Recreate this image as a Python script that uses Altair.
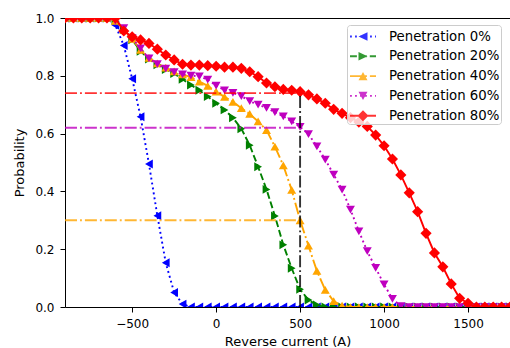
import altair as alt
import pandas as pd

# ---------------- data ----------------
current = list(range(-900, 1751, 50))  # sample grid (A)

names = ["Penetration 0%", "Penetration 20%", "Penetration 40%",
         "Penetration 60%", "Penetration 80%"]

p0 = [1, 1, 1, 1, 1, 1,
      0.975, 0.905, 0.79, 0.658, 0.495, 0.316,
      0.153, 0.05, 0.01, 0, 0, 0,
      0, 0, 0, 0, 0, 0,
      0, 0, 0, 0, 0, 0,
      0, 0, 0, 0, 0, 0,
      0, 0, 0, 0, 0, 0,
      0, 0, 0, 0, 0, 0,
      0, 0, 0, 0, 0, 0]

p20 = [1, 1, 1, 1, 1, 1,
       0.99, 0.96, 0.925, 0.885, 0.858, 0.838,
       0.822, 0.808, 0.788, 0.768, 0.75, 0.728,
       0.705, 0.682, 0.655, 0.617, 0.56, 0.485,
       0.407, 0.315, 0.215, 0.134, 0.061, 0.024,
       0.007, 0, 0, 0, 0, 0,
       0, 0, 0, 0, 0, 0,
       0, 0, 0, 0, 0, 0,
       0, 0, 0, 0, 0, 0]

p40 = [1, 1, 1, 1, 1, 1,
       0.99, 0.96, 0.928, 0.89, 0.862, 0.843,
       0.828, 0.815, 0.805, 0.795, 0.78, 0.765,
       0.745, 0.727, 0.71, 0.688, 0.668, 0.642,
       0.612, 0.555, 0.49, 0.405, 0.30, 0.212,
       0.125, 0.059, 0.02, 0.005, 0, 0,
       0, 0, 0, 0, 0, 0,
       0, 0, 0, 0, 0, 0,
       0, 0, 0, 0, 0, 0]

p60 = [1, 1, 1, 1, 1, 1,
       0.99, 0.965, 0.93, 0.895, 0.86, 0.84,
       0.825, 0.813, 0.805, 0.801, 0.798, 0.787,
       0.766, 0.75, 0.741, 0.73, 0.712, 0.70,
       0.689, 0.674, 0.66, 0.642, 0.623, 0.598,
       0.556, 0.51, 0.458, 0.406, 0.337, 0.262,
       0.193, 0.135, 0.078, 0.028, 0.003, 0,
       0, 0, 0, 0, 0, 0,
       0, 0, 0, 0, 0, 0]

p80 = [1, 1, 1, 1, 1, 1,
       1.0, 0.955, 0.935, 0.924, 0.912, 0.892,
       0.872, 0.855, 0.84, 0.837, 0.837, 0.835,
       0.833, 0.83, 0.83, 0.826, 0.814, 0.797,
       0.775, 0.762, 0.753, 0.75, 0.745, 0.734,
       0.72, 0.705, 0.684, 0.67, 0.655, 0.64,
       0.625, 0.595, 0.558, 0.512, 0.457, 0.395,
       0.33, 0.255, 0.187, 0.139, 0.08, 0.03,
       0.013, 0, 0, 0, 0, 0]

series_values = [p0, p20, p40, p60, p80]

ref_levels = [0.74, 0.62, 0.30]
ref_colors = ["#ff0000", "#bf00bf", "#ffa500"]
ref_x_start = -900
ref_x_end = 500

x_ticks = [-500, 0, 500, 1000, 1500]
y_ticks = [0.0, 0.2, 0.4, 0.6, 0.8, 1.0]

# ---------------- styles ----------------
colors = ["#0000ff", "#008000", "#ffa500", "#bf00bf", "#ff0000"]
shapes = ["triangle-left", "triangle-right", "triangle-up", "triangle-down", "diamond"]
sizes = [80, 80, 80, 80, 125]
LW = 1.9
DOT = [1.9, 3.1]
DASH = [6.9, 3.0]
DASHDOT = [12, 3, 1.9, 3]
dashes = [DOT, DASH, DASHDOT, DOT, None]

rows = []
for n, vals in zip(names, series_values):
    for c, v in zip(current, vals):
        rows.append({"current": c, "prob": v, "series": n})
df = pd.DataFrame(rows)

x_scale = alt.Scale(domain=[-900, 1750], nice=False, zero=False)
y_scale = alt.Scale(domain=[0, 1], nice=False)
x_axis = alt.Axis(values=x_ticks, format="d", title="Reverse current (A)")
y_axis = alt.Axis(values=y_ticks, format=".1f", title="Probability")


def X(field):
    return alt.X(field, type="quantitative", scale=x_scale, axis=x_axis)


def Y(field):
    return alt.Y(field, type="quantitative", scale=y_scale, axis=y_axis)


# ---------------- legend symbols (line + marker as one path) ----------------
R = 10.0  # px per unit for symbolSize 400


def segs(pattern, x0, x1):
    if not pattern:
        return [(x0, x1)]
    out = []
    pos, i = x0, 0
    while pos < x1 - 1e-9:
        end = min(pos + pattern[i % len(pattern)], x1)
        if i % 2 == 0:
            out.append((pos, end))
        pos = end
        i += 1
    return out


def marker_poly(kind, cx):
    a, b, d = 4.5, 4.2, 5.5
    if kind == "triangle-left":
        return [(cx - a, 0), (cx + a, -b), (cx + a, b)]
    if kind == "triangle-right":
        return [(cx + a, 0), (cx - a, b), (cx - a, -b)]
    if kind == "triangle-up":
        return [(cx, -b), (cx + a, b), (cx - a, b)]
    if kind == "triangle-down":
        return [(cx, b), (cx - a, -b), (cx + a, -b)]
    return [(cx - d, 0), (cx, -d), (cx + d, 0), (cx, d)]


def f(v):
    return f"{v / R:.3f}"


def legend_path(pattern, kind, x0=-8.5, x1=17.5):
    t = LW / 2
    parts = []
    for a, b in segs(pattern, x0, x1):
        parts.append(f"M{f(a)},{f(-t)}L{f(b)},{f(-t)}L{f(b)},{f(t)}L{f(a)},{f(t)}Z")
    pts = marker_poly(kind, (x0 + x1) / 2)
    parts.append("M" + "L".join(f"{f(px)},{f(py)}" for px, py in pts) + "Z")
    return "".join(parts)


legend_paths = [legend_path(p, k) for p, k in zip(dashes, shapes)]

leg = alt.Legend(
    title=None, orient="none", legendX=282, legendY=7,
    fillColor="rgba(255,255,255,0.8)", strokeColor="#cccccc", cornerRadius=3,
    padding=1.5, symbolSize=400, symbolStrokeWidth=0, symbolOpacity=1,
    labelFont="DejaVu Sans", labelFontSize=13.3, labelColor="black",
    labelOffset=20.5, rowPadding=2.8,
)

# ---------------- layers ----------------
layers = []
base = alt.Chart(df)
for i, n in enumerate(names):
    sub = base.transform_filter(alt.datum.series == n)
    line_kw = dict(color=colors[i], strokeWidth=LW, clip=True)
    if dashes[i]:
        line_kw["strokeDash"] = dashes[i]
    layers.append(sub.mark_line(**line_kw).encode(x=X("current"), y=Y("prob")))
    layers.append(
        sub.mark_point(shape=shapes[i], filled=True, size=sizes[i],
                       color=colors[i], opacity=1, clip=True)
        .encode(x=X("current"), y=Y("prob"))
    )

href = pd.DataFrame({
    "level": ref_levels,
    "x0": [ref_x_start] * len(ref_levels),
    "x1": [ref_x_end] * len(ref_levels),
    "col": ref_colors,
})
layers.append(
    alt.Chart(href).mark_rule(strokeWidth=LW, strokeDash=DASHDOT, opacity=0.8)
    .encode(x=X("x0"), x2="x1", y=Y("level"), color=alt.Color("col:N", scale=None))
)

vref = pd.DataFrame({"x": [ref_x_end], "y0": [0.0], "y1": [ref_levels[0]]})
layers.append(
    alt.Chart(vref).mark_rule(strokeWidth=LW, strokeDash=DASHDOT, color="black", opacity=0.8)
    .encode(x=X("x"), y=Y("y0"), y2="y1")
)

layers.append(
    base.mark_point(filled=True, opacity=0).encode(
        x=X("current"), y=Y("prob"),
        color=alt.Color("series:N", scale=alt.Scale(domain=names, range=colors), legend=leg),
        shape=alt.Shape("series:N", scale=alt.Scale(domain=names, range=legend_paths), legend=leg),
    )
)

chart = (
    alt.layer(*layers)
    .properties(width=445, height=289,
                padding={"left": 65, "top": 18, "right": 0, "bottom": 41},
                autosize=alt.AutoSizeParams(type="none"))
    .configure_view(stroke="black", strokeWidth=1)
    .configure_axis(
        labelFont="DejaVu Sans", labelFontSize=12, labelColor="black",
        titleFont="DejaVu Sans", titleFontSize=13, titleColor="black",
        titleFontWeight="normal", tickColor="black", tickWidth=1, tickSize=5,
        labelPadding=6, domain=False, grid=False,
    )
    .configure_axisX(titlePadding=6)
    .configure_axisY(titlePadding=8)
)

chart.save("out.html", embed_options={"renderer": "svg", "actions": False})
